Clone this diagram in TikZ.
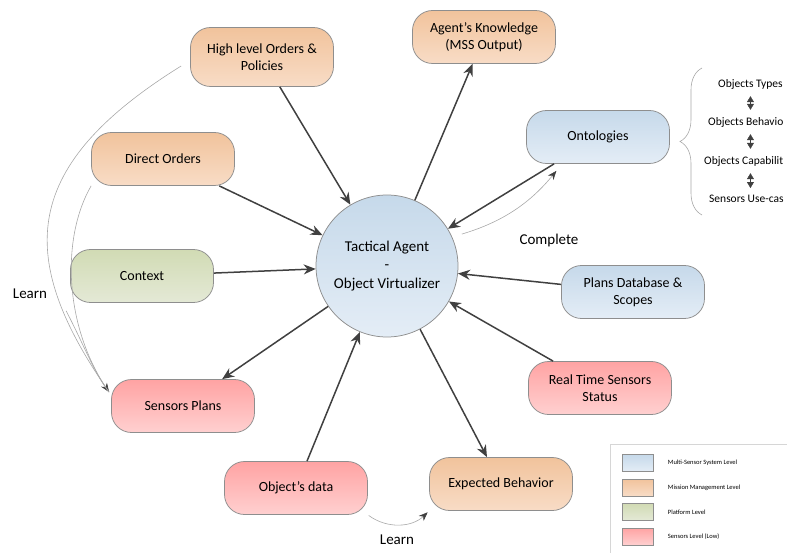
\documentclass[tikz,border=0pt]{standalone}
\usepackage{fontspec}
\setmainfont{Carlito}
\usetikzlibrary{arrows.meta,positioning,decorations.pathreplacing}
\definecolor{msstop}{HTML}{C6D9EA}
\definecolor{mssbot}{HTML}{E4EDF6}
\definecolor{mmtop}{HTML}{F1C39C}
\definecolor{mmbot}{HTML}{F8DCC6}
\definecolor{plattop}{HTML}{D1DBB4}
\definecolor{platbot}{HTML}{E4E9D6}
\definecolor{senstop}{HTML}{FFA3A3}
\definecolor{sensbot}{HTML}{FFD0D0}
\definecolor{boxline}{HTML}{8E8E8E}
\definecolor{arrowgray}{HTML}{404040}
\definecolor{thingray}{HTML}{A8A8A8}
\definecolor{framegray}{HTML}{D6D6D6}
\tikzset{
  mssfill/.style={top color=msstop, bottom color=mssbot},
  mmfill/.style={top color=mmtop, bottom color=mmbot},
  platfill/.style={top color=plattop, bottom color=platbot},
  sensfill/.style={top color=senstop, bottom color=sensbot},
  levelbox/.style={
    draw=boxline,
    line width=0.75pt,
    rounded corners=20pt,
    minimum width=143pt,
    minimum height=53pt,
    inner sep=2pt,
    align=center,
    font=\fontsize{14}{17}\selectfont
  },
  mssbox/.style={levelbox, mssfill},
  mmbox/.style={levelbox, mmfill},
  platbox/.style={levelbox, platfill},
  sensbox/.style={levelbox, sensfill},
  swatch/.style={
    draw=boxline,
    line width=0.5pt,
    minimum width=31pt,
    minimum height=17pt,
    inner sep=0pt
  },
  flow/.style={
    draw=arrowgray,
    line width=1.5pt,
    -{Stealth[length=12pt,width=10pt]}
  },
  learnarc/.style={
    draw=thingray,
    line width=0.6pt
  },
  learntip/.style={
    learnarc,
    -{Stealth[length=9pt,width=7pt,color=arrowgray]}
  },
  ontitem/.style={inner sep=0pt, anchor=west, font=\fontsize{11.5}{13}\selectfont},
  updown/.style={
    draw=arrowgray,
    line width=0.4pt,
    {Triangle[length=6pt,width=7pt]}-{Triangle[length=6pt,width=7pt]},
    shorten <=7pt, shorten >=7pt
  },
  annot/.style={inner sep=0pt, font=\fontsize{15}{18}\selectfont}
}
\begin{document}
\begin{tikzpicture}[x=1pt,y=-1pt]
  \useasboundingbox (0,0) rectangle (787,553);
  \clip (0,0) rectangle (787,553);

  % centre
  \node[circle, draw=boxline, line width=0.75pt, mssfill, minimum size=142pt,
        align=center, font=\fontsize{15}{18.5}\selectfont] (agent) at (387,266)
        {Tactical Agent\\-\\Object Virtualizer};

  % surrounding levels
  \node[mmbox, minimum height=59pt] (hlo) at (262,57) {High level Orders \&\\Policies};
  \node[mmbox] (know) at (484,37) {Agent’s Knowledge\\(MSS Output)};
  \node[mmbox] (dord) at (163,159) {Direct Orders};
  \node[mssbox] (onto) at (598,137) {Ontologies};
  \node[platbox] (ctx) at (142,276) {Context};
  \node[mssbox] (pdb) at (633,292) {Plans Database \&\\Scopes};
  \node[sensbox] (rts) at (600,388) {Real Time Sensors\\Status};
  \node[sensbox] (splan) at (183,406) {Sensors Plans};
  \node[sensbox] (odata) at (296,488) {Object’s data};
  \node[mmbox] (expb) at (501,484) {Expected Behavior};

  \draw[flow] (hlo) -- (agent);
  \draw[flow] (agent) -- (know);
  \draw[flow] (dord) -- (agent);
  \draw[flow] (onto) -- (agent);
  \draw[flow] (ctx) -- (agent);
  \draw[flow] (pdb) -- (agent);
  \draw[flow] (rts) -- (agent);
  \draw[flow] (agent) -- (splan);
  \draw[flow] (odata) -- (agent);
  \draw[flow] (agent) -- (expb);

  % learning / completion arcs
  \coordinate (learnin) at ([shift={(-2,13)}]splan.north west);
  \draw[learntip] ([shift={(-9,9)}]hlo.west) .. controls (22,165) and (15,255) .. (learnin);
  \draw[learnarc] (dord.south west) .. controls (60,240) and (65,330) .. (learnin);
  \draw[learnarc] ([shift={(-4,8)}]ctx.south west) .. controls (84,345) and (95,375) .. (learnin);
  \node[annot] (learnl) at (30,294) {Learn};

  \draw[learntip, shorten <=10pt, shorten >=9pt] (agent.24) to[bend right=17] ([xshift=36pt]onto.south west);
  \node[annot] (compl) at (549,241) {Complete};

  \draw[learntip, shorten <=1pt, shorten >=2pt] (odata.south east) to[bend right=40] (expb.south west);
  \node[annot] (learnb) at (397,540) {Learn};

  % ontology content (cut by the page edge as printed)
  \node[ontitem] (ont1) at (718,84) {Objects Types};
  \node[ontitem] (ont2) at (708,122) {Objects Behavio};
  \node[ontitem] (ont3) at (704,161) {Objects Capabilit};
  \node[ontitem] (ont4) at (709,199) {Sensors Use-cas};
  \foreach \i [evaluate=\i as \j using int(\i+1)] in {1,2,3}{
    \draw[updown] (ont\i.south -| ont1) -- (ont\j.north -| ont1);
  }
  \coordinate (bracebot) at (702,215);
  \coordinate (bracetop) at (702,68);
  \draw[thingray, line width=0.6pt, decorate, decoration={brace, amplitude=22pt}] (bracebot) -- (bracetop);

  % legend
  \draw[framegray, line width=1pt] (610,560) -- (610,444) -- (795,444);
  \foreach \s/\t [count=\i] in {mss/Multi-Sensor System Level, mm/Mission Management Level,
                                plat/Platform Level, sens/Sensors Level (Low)}{
    \node[swatch, \s fill] (sw\i) at (638, 463+24.5*\i-24.5) {};
    \node[right=14pt of sw\i, inner sep=0pt, font=\fontsize{6.5}{8}\selectfont] (lg\i) {\t};
  }
\end{tikzpicture}
\end{document}
